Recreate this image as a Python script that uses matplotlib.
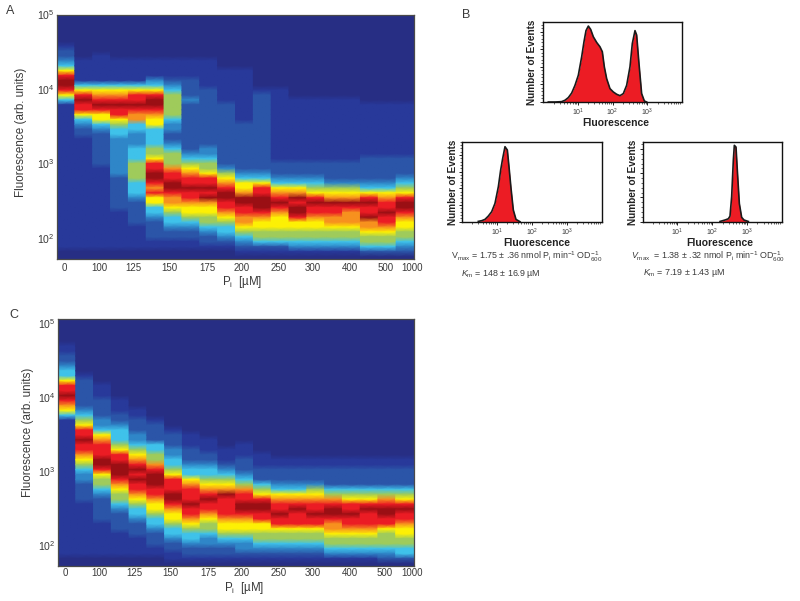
import numpy as np
import matplotlib
matplotlib.use("Agg")
import matplotlib.pyplot as plt
from matplotlib.colors import LinearSegmentedColormap
from matplotlib.ticker import MultipleLocator, LogLocator, NullFormatter

plt.rcParams['font.family'] = ['Liberation Sans', 'DejaVu Sans']
plt.rcParams['mathtext.fontset'] = 'custom'
plt.rcParams['mathtext.rm'] = 'Liberation Sans'
plt.rcParams['mathtext.it'] = 'Liberation Sans:italic'
plt.rcParams['mathtext.default'] = 'regular'

TXT = '#3a3a3a'
W, H = 800, 601

# --- heat map columns: one string per phosphate level, top bin first, colour level 0-9
panel_a = [
 "0000001223 4689986411 1111111111 1111111111 1111111100",
 "0000000001 1111468988 6432211111 1111111111 1111111100",
 "0000000011 1111467898 6643222222 2111111111 1111111100",
 "0000000001 1111467898 8654433333 3332222222 1111111100",
 "0000000001 1111468898 7744333444 5555444322 2221111100",
 "0000000001 1113468998 7664444556 8899878664 4322221100",
 "0000000001 1112345555 5433223455 5788998776 5443221100",
 "0000000001 1112222322 2222222234 5678898876 6543221100",
 "0000000001 1111122222 2222222334 5568898976 6554322100",
 "0000000000 0111111122 2222222222 2356789988 7654432100",
 "0000000000 0111111111 1122222222 2234667998 8776543210",
 "0000000000 0000012222 2222222222 2234688999 8766554210",
 "0000000000 0000011111 1111111111 2223467898 7666554210",
 "0000000000 0000000111 1111111111 2223467989 9866554310",
 "0000000000 0000000111 1111111111 2223456898 8766554310",
 "0000000000 0000000111 1111111111 2222356798 8776554310",
 "0000000000 0000000111 1111111111 2222356798 7776554310",
 "0000000000 0000000011 1111111112 2222346898 8977655420",
 "0000000000 0000000011 1111111112 2222346788 9887655420",
 "0000000000 0000000011 1111111112 2223456899 8766554320",
]
panel_c = [
 "0000011223 4468898764 1111111111 1111111111 1111111100",
 "0000000000 0122222234 5688988765 4332222111 1111111100",
 "0000000000 0001112222 3346788899 8655432222 2111111100",
 "0000000000 0000001112 2344456889 9987655432 2221111100",
 "0000000000 0000000011 2223345678 9898876544 3222111100",
 "0000000000 0000000000 1222244557 8999887665 4432221100",
 "0000000000 0000000000 0012223344 5688899876 6544322110",
 "0000000000 0000000000 0001112223 4467888988 7654432210",
 "0000000000 0000000000 0000111223 4456789887 6554332210",
 "0000000000 0000000000 0000001112 3456798888 7665432210",
 "0000000000 0000000000 0000011122 2345788998 7665433210",
 "0000000000 0000000000 0000000111 2224568998 8665543210",
 "0000000000 0000000000 0000000011 2223467889 8865543210",
 "0000000000 0000000000 0000000011 2223467898 8865543210",
 "0000000000 0000000000 0000000011 2223567889 8865543210",
 "0000000000 0000000000 0000000011 2222457899 8776554310",
 "0000000000 0000000000 0000000011 2222456889 8876554310",
 "0000000000 0000000000 0000000011 2222456898 8876554310",
 "0000000000 0000000000 0000000011 2222457899 8865554320",
 "0000000000 0000000000 0000000011 2222456898 8766554420",
]
pi_labels = ['0', '100', '125', '150', '175', '200', '250', '300', '400', '500', '1000']
pi_label_cols = [0.4, 2.35, 4.3, 6.3, 8.45, 10.35, 12.4, 14.35, 16.4, 18.4, 19.9]

level_colors = ['#272e84', '#28399a', '#2b56a8', '#2f86c8', '#3fc3ea',
                '#9ecb5c', '#fdf004', '#f7941e', '#ec1c24', '#9a0f14']

# --- histograms: log10 fluorescence, events (arbitrary units)
top_logx = [.145, .338, .530, .627, .723, .820, .916, 1.012, 1.109, 1.176, 1.234, 1.302, 1.369,
            1.446, 1.542, 1.638, 1.706, 1.764, 1.831, 1.927, 2.024, 2.120, 2.216, 2.313, 2.409,
            2.505, 2.573, 2.650, 2.698, 2.765, 2.842, 2.920, 2.987]
top_events = [0, 0, .02, .1, .25, .51, .95, 1.52, 2.57, 3.43, 4.06, 4.32, 4.13,
              3.71, 3.39, 3.14, 2.86, 2.0, 1.33, .76, .57, .44, .36, .48, .95,
              2.0, 3.33, 4.06, 3.81, 2.19, .48, .06, 0]
left_logx = [.474, .571, .666, .761, .856, .951, 1.047, 1.113, 1.171, 1.237, 1.304, 1.351, 1.409, 1.475, 1.551, 1.666]
left_events = [.02, .06, .14, .34, .6, 1.1, 2.1, 3.1, 3.8, 4.5, 4.3, 3.3, 2.0, .7, .14, 0]
right_logx = [2.224, 2.368, 2.464, 2.512, 2.560, 2.608, 2.637, 2.685, 2.723, 2.781, 2.848, 2.915, 3.04]
right_events = [.01, .07, .12, .23, 1.03, 2.53, 3.15, 3.08, 2.12, .75, .18, .07, .01]


def rect(x0, y0, x1, y1):
    return [x0 / W, 1 - y1 / H, (x1 - x0) / W, (y1 - y0) / H]


def place(x, y, s, **kw):
    kw.setdefault('color', TXT)
    kw.setdefault('va', 'center')
    fig.text(x / W, 1 - y / H, s, **kw)


fig = plt.figure(figsize=(W / 100, H / 100), dpi=100)
cmap = LinearSegmentedColormap.from_list('levels', level_colors, N=256)


def heat(box, cols, top_exp, ylab_xy, xlab_xy, xpad):
    ax = fig.add_axes(rect(*box))
    ax.set_facecolor(level_colors[0])
    Z = np.array([[int(c) for c in s.replace(' ', '')] for s in cols]).T
    nb = Z.shape[0]
    edges = np.linspace(top_exp, 1.72, nb + 1)
    centers = 10.0 ** ((edges[:-1] + edges[1:]) / 2)
    ax.set_yscale('log')
    for j in range(len(cols)):
        X = np.array([[j, j + 1]] * nb, dtype=float)
        Y = np.column_stack([centers, centers])
        C = np.column_stack([Z[:, j], Z[:, j]]).astype(float)
        ax.pcolormesh(X, Y, C, cmap=cmap, vmin=0, vmax=9, shading='gouraud', antialiased=False)
    ax.set_ylim(10.0 ** edges[-1], 10.0 ** edges[0])
    ax.set_xlim(0, len(cols))
    ax.set_yticks([1e2, 1e3, 1e4, 1e5], [r'$10^{2}$', r'$10^{3}$', r'$10^{4}$', r'$10^{5}$'])
    ax.yaxis.set_minor_locator(plt.NullLocator())
    ax.set_xticks(pi_label_cols, pi_labels)
    ax.tick_params(axis='x', length=0, pad=xpad, labelsize=7, colors=TXT)
    ax.tick_params(axis='y', length=0, pad=2, labelsize=7.6, colors=TXT)
    for s in ax.spines.values():
        s.set_color('#4a4a4a')
        s.set_linewidth(0.9)
    place(ylab_xy[0], ylab_xy[1], 'Fluorescence (arb. units)', rotation=90,
          ha='center', fontsize=8.4)
    place(xlab_xy[0], xlab_xy[1], r'P$_{i}$  [µM]', ha='center', fontsize=8.3)
    return ax


heat((57, 14.5, 414, 259), panel_a, 5.0, (21, 132), (242.5, 281.5), 3)
heat((58, 319, 413.5, 566), panel_c, 5.06, (27.5, 432), (244, 587.5), 1.5)


def hist(box, logx, events, ymax, lab_x, ev_x):
    ax = fig.add_axes(rect(*box))
    x = np.power(10.0, logx)
    ax.fill_between(x, events, 0, color='#ec1c24', lw=0)
    ax.plot(x, events, color='#1a1a1a', lw=1.2)
    ax.set_xscale('log')
    ax.set_xlim(1, 1e4)
    ax.set_ylim(0, ymax)
    ax.set_xticks([10, 100, 1000], [r'$10^{1}$', r'$10^{2}$', r'$10^{3}$'])
    ax.xaxis.set_minor_locator(LogLocator(base=10, subs=np.arange(2, 10)))
    ax.xaxis.set_minor_formatter(NullFormatter())
    ax.yaxis.set_major_locator(MultipleLocator(1))
    ax.yaxis.set_minor_locator(MultipleLocator(.2))
    ax.set_yticklabels([])
    ax.tick_params(axis='both', which='major', length=2.5, width=.7, color='#222222')
    ax.tick_params(axis='both', which='minor', length=1.3, width=.5, color='#222222')
    ax.tick_params(axis='x', which='major', labelsize=5, pad=0.8, labelcolor=TXT)
    for s in ax.spines.values():
        s.set_color('#111111')
        s.set_linewidth(1.0)
    place(lab_x, box[3] + 20.8, 'Fluorescence', ha='center',
          fontsize=7.5, fontweight='bold', color='#222222')
    place(ev_x, (box[1] + box[3]) / 2 + 0.5, 'Number of Events', ha='center', rotation=90,
          fontsize=7.2, fontweight='bold', color='#222222')


hist((543.3, 22, 681.7, 102), top_logx, top_events, 4.55, 616, 532)
hist((461.7, 141.7, 601.7, 221.7), left_logx, left_events, 4.8, 537, 453)
hist((642.7, 141.7, 781.7, 221.7), right_logx, right_events, 3.3, 720, 632.5)

place(6, 11, 'A', fontsize=9)
place(462, 15, 'B', fontsize=9)
place(9, 315, 'C', fontsize=9)

fs = 6.4
place(451, 257, r'V$_{max}$ = 1.75 ± .36 nmol P$_{i}$ min$^{-1}$ OD$_{600}^{-1}$', fontsize=fs)
place(631, 257, r'$\mathit{V}_{max}$  = 1.38 ± .32 nmol P$_{i}$ min$^{-1}$ OD$_{600}^{-1}$', fontsize=fs)
place(461, 274, r'$\mathit{K}_{m}$ = 148 ± 16.9 µM', fontsize=fs)
place(643, 273, r'$\mathit{K}_{m}$ = 7.19 ± 1.43 µM', fontsize=fs)

fig.savefig('out.png', dpi=100)
